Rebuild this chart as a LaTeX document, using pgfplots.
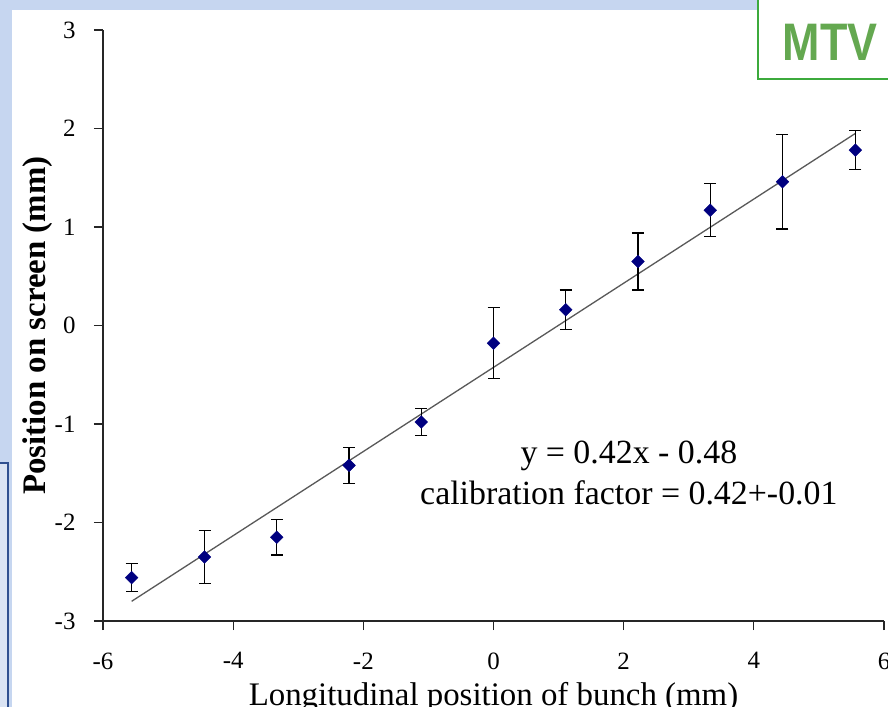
\documentclass[border=0pt]{standalone}
\usepackage{pgfplots}
\pgfplotsset{compat=1.18}
\usepackage{pgfplotstable}
\usepackage{fontspec}
\setmainfont{Liberation Serif}
\newfontfamily\arialfont{Liberation Sans}
\definecolor{slidebg}{RGB}{198,214,240}
\definecolor{boxfill}{RGB}{218,227,243}
\definecolor{boxline}{RGB}{47,79,143}
\definecolor{mtvgreen}{RGB}{100,168,80}
\definecolor{mtvline}{RGB}{60,170,60}
\definecolor{navy}{RGB}{0,0,128}
\pgfplotstableread{
x y e
-5.56 -2.56 0.14
-4.44 -2.35 0.27
-3.33 -2.15 0.18
-2.22 -1.42 0.18
-1.11 -0.98 0.14
0.00 -0.18 0.36
1.11 0.16 0.20
2.22 0.65 0.29
3.33 1.17 0.27
4.44 1.46 0.48
5.56 1.78 0.20
}\datatable
\begin{document}
\begin{tikzpicture}
\path[use as bounding box] (-103bp,-86bp) rectangle (785bp,621bp);
\fill[slidebg] (-103bp,-86bp) rectangle (785bp,621bp);
\fill[white] (-91bp,-90bp) rectangle (790bp,611bp);
\filldraw[fill=boxfill,draw=boxline,line width=1.2bp] (-104bp,-95bp) rectangle (-95bp,158bp);
\begin{axis}[
  scale only axis,
  width=781bp, height=591bp,
  xmin=-6, xmax=6, ymin=-3, ymax=3,
  axis x line*=bottom, axis y line*=left,
  axis line style={-, line width=1.3bp, black!85},
  xtick={-6,-4,...,6}, ytick={-3,-2,...,3},
  tick align=outside, major tick length=9bp,
  every tick/.style={line width=1.2bp, black!85},
  /pgf/number format/assume math mode=true,
  xticklabel={\pgfmathprintnumber{\tick}},
  yticklabel={\pgfmathprintnumber{\tick}},
  xticklabel style={font=\fontsize{25}{30}\selectfont, yshift=-19bp},
  yticklabel style={font=\fontsize{25}{30}\selectfont, xshift=-15bp},
  xlabel={Longitudinal position of bunch (mm)},
  ylabel={\bfseries Position on screen (mm)},
  label style={font=\fontsize{33}{38}\selectfont},
  xlabel style={at={([yshift=-84bp]axis description cs:0.5,0)}, anchor=base},
  ylabel style={at={([xshift=-65bp]axis description cs:0,0.5)}, anchor=center},
  clip=false,
]
\addplot[line width=1.3bp, black!65] coordinates {(-5.56,-2.80) (5.56,1.95)};
\addplot[only marks, mark=square*, mark size=4.5bp, color=navy,
  mark options={rotate=45},
  error bars/.cd, y dir=both, y explicit,
  error bar style={black, line width=1.2bp},
  error mark options={black, rotate=90, mark size=6bp, line width=1.2bp}]
  table[x=x, y=y, y error=e] {\datatable};
\node[font=\fontsize{34}{38}\selectfont, anchor=base] at (axis cs:2.08,-1.406) {y = 0.42x - 0.48};
\node[font=\fontsize{34}{38}\selectfont, anchor=base] at (axis cs:2.08,-1.822) {calibration factor = 0.42+-0.01};
\end{axis}
\filldraw[fill=white,draw=mtvline,line width=2.5bp] (655bp,542bp) rectangle (800bp,640bp);
\node[text=mtvgreen, font=\arialfont\bfseries\fontsize{53}{58}\selectfont, xscale=0.85] at (727bp,579bp) {MTV};
\end{tikzpicture}
\end{document}
